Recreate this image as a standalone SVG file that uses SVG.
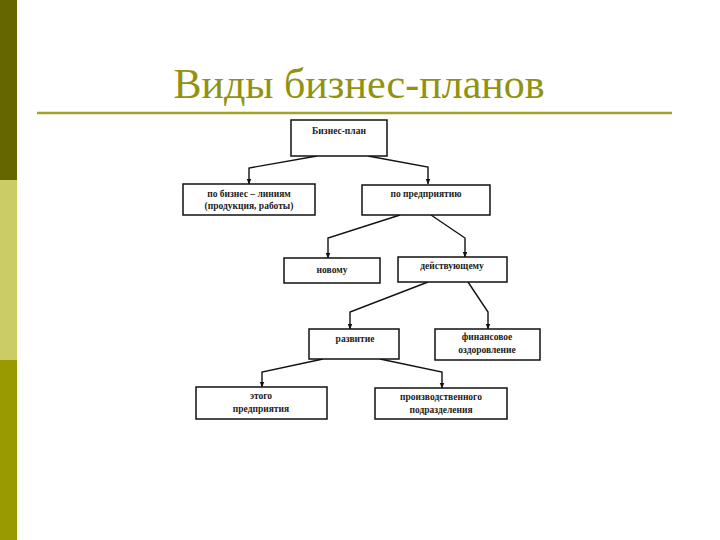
<svg xmlns="http://www.w3.org/2000/svg" width="720" height="540" viewBox="0 0 720 540">
<defs>
<style>
.box{fill:#fff;stroke:#111;stroke-width:1.5}
.t{font-family:"Liberation Serif","Times New Roman",serif;font-size:9.5px;font-weight:bold;fill:#222;text-anchor:middle}
.c{fill:none;stroke:#111;stroke-width:1.4}
</style>
<marker id="ah" viewBox="0 0 10 10" refX="9" refY="5" markerWidth="6" markerHeight="6" orient="auto" markerUnits="userSpaceOnUse">
<path d="M0,1 L10,5 L0,9 z" fill="#111"/>
</marker>
</defs>
<rect x="0" y="0" width="720" height="540" fill="#fff"/>
<rect x="0" y="0" width="17" height="180" fill="#666600"/>
<rect x="0" y="180" width="17" height="180" fill="#cccc66"/>
<rect x="0" y="360" width="17" height="180" fill="#999900"/>
<text x="359" y="98" font-family="Liberation Serif,'Times New Roman',serif" font-size="42" fill="#929210" text-anchor="middle">Виды бизнес-планов</text>
<line x1="37" y1="113" x2="672" y2="113" stroke="#a3a32a" stroke-width="2.5"/>

<g id="connectors">
<polyline class="c" points="317,156 249,168 249,184" marker-end="url(#ah)"/>
<polyline class="c" points="368,156 428,167 428,184" marker-end="url(#ah)"/>
<polyline class="c" points="400,215 328,238 328,258" marker-end="url(#ah)"/>
<polyline class="c" points="431,215 465,238 465,257" marker-end="url(#ah)"/>
<polyline class="c" points="428,282 350,312 350,329" marker-end="url(#ah)"/>
<polyline class="c" points="468,282 488,312 488,329" marker-end="url(#ah)"/>
<polyline class="c" points="323,359 262,372 262,387" marker-end="url(#ah)"/>
<polyline class="c" points="380,359 442,372 442,388" marker-end="url(#ah)"/>
</g>

<g id="n1"><rect class="box" x="291" y="120" width="96" height="36"/><text class="t" x="339" y="134" font-size="10.5">Бизнес-план</text></g>
<g id="n2"><rect class="box" x="183" y="184" width="132" height="31"/><text class="t" x="249" y="197">по бизнес – линиям</text><text class="t" x="249" y="209">(продукция, работы)</text></g>
<g id="n3"><rect class="box" x="362" y="185" width="128" height="30"/><text class="t" x="426" y="197">по предприятию</text></g>
<g id="n4"><rect class="box" x="284" y="258" width="96" height="25"/><text class="t" x="332" y="273">новому</text></g>
<g id="n5"><rect class="box" x="398" y="257" width="109" height="25"/><text class="t" x="452" y="269">действующему</text></g>
<g id="n6"><rect class="box" x="309" y="329" width="90" height="30"/><text class="t" x="355" y="342">развитие</text></g>
<g id="n7"><rect class="box" x="435" y="329" width="105" height="31"/><text class="t" x="487" y="340">финансовое</text><text class="t" x="487" y="353">оздоровление</text></g>
<g id="n8"><rect class="box" x="196" y="387" width="131" height="32"/><text class="t" x="261" y="399">этого</text><text class="t" x="261" y="412">предприятия</text></g>
<g id="n9"><rect class="box" x="375" y="388" width="132" height="31"/><text class="t" x="441" y="400">производственного</text><text class="t" x="441" y="413">подразделения</text></g>
</svg>
